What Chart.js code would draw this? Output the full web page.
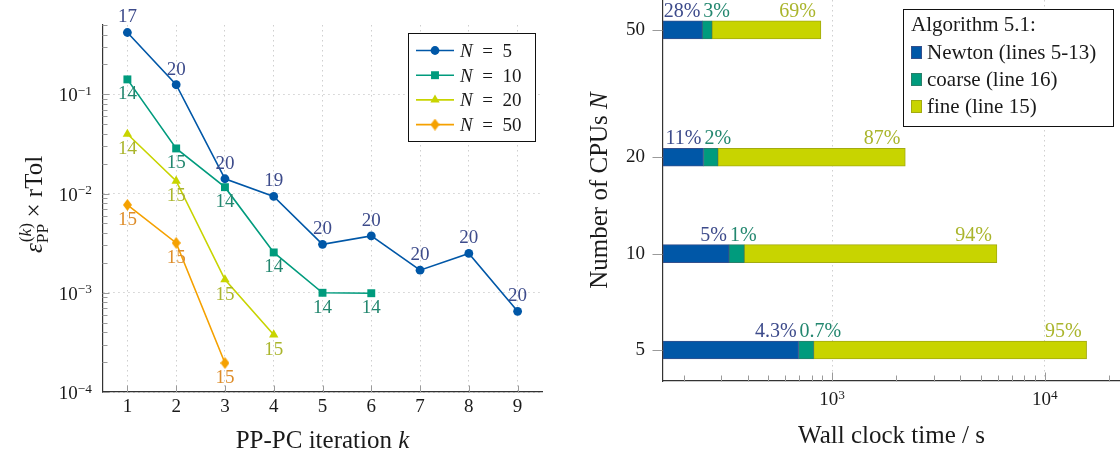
<!DOCTYPE html>
<html><head><meta charset="utf-8">
<script src="https://cdn.jsdelivr.net/npm/chart.js@4.4.1/dist/chart.umd.min.js"></script>
<style>
html,body{margin:0;padding:0;background:#fff;}
#wrap{position:relative;width:1120px;height:456px;overflow:hidden;}
.pane{position:absolute;top:0;width:560px;height:456px;}
</style></head><body>
<div id="wrap">
  <div class="pane" style="left:0"><canvas id="c1" width="560" height="456"></canvas></div>
  <div class="pane" style="left:560px"><canvas id="c2" width="560" height="456"></canvas></div>
</div>
<script>
// ---------------- data: left chart ----------------
const iterations = [1, 2, 3, 4, 5, 6, 7, 8, 9];
const seriesN = [5, 10, 20, 50];
const errN5  = [0.42, 0.125, 0.0141, 0.00935, 0.00308, 0.00374, 0.00169, 0.00249, 0.00065];
const errN10 = [0.1415, 0.0285, 0.0116, 0.00255, 0.00100, 0.00099];
const errN20 = [0.0398, 0.0134, 0.00136, 0.000378];
const errN50 = [0.00769, 0.00318, 0.000196];
const itN5  = [17, 20, 20, 19, 20, 20, 20, 20, 20];
const itN10 = [14, 15, 14, 14, 14, 14];
const itN20 = [14, 15, 15, 15];
const itN50 = [15, 15, 15];
const errTickValues = [1e-4, 1e-3, 1e-2, 1e-1];
const errTickBase = ['10', '10', '10', '10'];
const errTickExp = ['−4', '−3', '−2', '−1'];

// ---------------- data: right chart ----------------
const cpuCounts = [50, 20, 10, 5];
const newtonTime = [245, 248, 327, 695];
const coarseTime = [27, 42, 59, 123];
const fineTime = [613, 1918, 5571, 14922];
const newtonPct = ['28%', '11%', '5%', '4.3%'];
const coarsePct = ['3%', '2%', '1%', '0.7%'];
const finePct = ['69%', '87%', '94%', '95%'];
const phaseNames = ['Newton (lines 5-13)', 'coarse (line 16)', 'fine (line 15)'];
const timeTickValues = [1e3, 1e4];
const timeTickBase = ['10', '10'];
const timeTickExp = ['3', '4'];
const cpuTickValues = [5, 10, 20, 50];
const cpuTickLabels = ['5', '10', '20', '50'];

// ---------------- styles ----------------
const FONT = '"Liberation Serif", "Times New Roman", serif';
const BLUE = '#0057a7', GREEN = '#009b7d', LIME = '#c8d400', ORANGE = '#f5a100';
const BLUE_T = '#3d4b8b', GREEN_T = '#23876f', LIME_T = '#aab52c', ORANGE_T = '#de8d2a';
const GRID = '#cfcfcf', AXIS = '#333', TICK = '#9a9a9a', TXT = '#1a1a1a';
Chart.defaults.font.family = FONT;
Chart.defaults.color = TXT;

function logRange(min, max) {
  const out = [];
  for (let e = Math.floor(Math.log10(min)); e <= Math.ceil(Math.log10(max)); e++) {
    for (let m = 1; m <= 9; m++) {
      const v = Number((m * Math.pow(10, e)).toPrecision(8));
      if (v >= min * 0.999999 && v <= max * 1.000001) out.push(v);
    }
  }
  return out;
}
function isPow10(v) { const l = Math.log10(v); return Math.abs(l - Math.round(l)) < 1e-6; }
function indexFor(v, values) {
  for (let i = 0; i < values.length; i++) if (Math.abs(Math.log10(v) - Math.log10(values[i])) < 1e-6) return i;
  return -1;
}
function fontStr(size, it) { return (it ? 'italic ' : '') + size + 'px ' + FONT; }
function measureRuns(ctx, runs, size) {
  let w = 0;
  for (const r of runs) {
    if (r.stack) r._w = Math.max(measureRuns(ctx, r.stack.sup, size * 0.7), measureRuns(ctx, r.stack.sub, size * 0.7));
    else if (r.sup) r._w = measureRuns(ctx, r.sup, size * 0.7);
    else { ctx.font = fontStr(size, r.it); r._w = ctx.measureText(r.t).width; }
    w += r._w;
  }
  return w;
}
function paintRuns(ctx, runs, x, y, size) {
  for (const r of runs) {
    if (r.stack) {
      paintRuns(ctx, r.stack.sup, x + 1, y - size * 0.45, size * 0.7);
      paintRuns(ctx, r.stack.sub, x, y + size * 0.25, size * 0.7);
    } else if (r.sup) {
      paintRuns(ctx, r.sup, x, y - size * 0.34, size * 0.7);
    } else { ctx.font = fontStr(size, r.it); ctx.fillText(r.t, x, y); }
    x += r._w;
  }
}
// baseline-positioned rich text
function drawRich(ctx, runs, cx, baseY, size, rotate, color, align) {
  ctx.save();
  ctx.translate(cx, baseY);
  if (rotate) ctx.rotate(-Math.PI / 2);
  ctx.fillStyle = color; ctx.textAlign = 'left'; ctx.textBaseline = 'alphabetic';
  const w = measureRuns(ctx, runs, size);
  const x0 = align === 'left' ? 0 : align === 'right' ? -w : -w / 2;
  paintRuns(ctx, runs, x0, 0, size);
  ctx.restore();
}
function tickMarkPlugin(specs) {
  return {
    id: 'tickMarks',
    beforeDatasetsDraw(chart) {
      const ctx = chart.ctx;
      specs.forEach(sp => {
        const s = chart.scales[sp.id];
        ctx.save(); ctx.strokeStyle = sp.color; ctx.lineWidth = 1;
        s.ticks.forEach(t => {
          const len = sp.isMajor(t.value) ? sp.major : sp.minor;
          const p = Math.round(s.getPixelForValue(t.value)) + 0.5;
          ctx.beginPath();
          if (s.isHorizontal()) { const y0 = Math.round(s.top) + 0.5; ctx.moveTo(p, y0); ctx.lineTo(p, y0 + (sp.inside ? -len : len)); }
          else { const x0 = Math.round(s.right) - 0.5; ctx.moveTo(x0, p); ctx.lineTo(x0 + (sp.inside ? len : -len), p); }
          ctx.stroke();
        });
        ctx.restore();
      });
    }
  };
}
// power-of-ten tick labels (10 with a raised exponent) placed through the scale
function powLabelPlugin(spec) {
  return {
    id: 'powLabels',
    afterDraw(chart) {
      const ctx = chart.ctx, s = chart.scales[spec.id];
      s.ticks.forEach(t => {
        const k = indexFor(t.value, spec.values);
        if (k < 0) return;
        const p = s.getPixelForValue(t.value);
        const runs = [{ t: spec.base[k] }, { sup: [{ t: spec.exp[k] }] }];
        if (s.isHorizontal()) drawRich(ctx, runs, p, s.top + spec.offset, 19, false, TXT, 'center');
        else drawRich(ctx, runs, s.right - spec.offset, p + 7, 19, false, TXT, 'right');
      });
    }
  };
}
function markerDraw(ctx, ds, x, y) {
  ctx.save();
  ctx.fillStyle = ds.pointBackgroundColor; ctx.strokeStyle = ds.pointBackgroundColor;
  if (Chart.helpers && Chart.helpers.drawPoint) {
    Chart.helpers.drawPoint(ctx, { pointStyle: ds.pointStyle, radius: ds.pointRadius, borderWidth: 0, rotation: 0 }, x, y);
  } else {
    ctx.beginPath(); ctx.arc(x, y, ds.pointRadius, 0, Math.PI * 2); ctx.fill();
  }
  ctx.restore();
}

// diamond marker image (taller than wide)
const diamond = document.createElement('canvas');
diamond.width = 9; diamond.height = 12;
(function () {
  const g = diamond.getContext('2d');
  g.fillStyle = ORANGE; g.beginPath();
  g.moveTo(4.5, 0); g.lineTo(9, 6); g.lineTo(4.5, 12); g.lineTo(0, 6); g.closePath(); g.fill();
})();

// ---------------- left chart ----------------
const errSeries = [errN5, errN10, errN20, errN50];
const itSeries = [itN5, itN10, itN20, itN50];
const lineColors = [BLUE, GREEN, LIME, ORANGE];
const labelColors = [BLUE_T, GREEN_T, LIME_T, ORANGE_T];
const styles = ['circle', 'rect', 'triangle', diamond];
const radii = [4.4, 5.6, 5.4, 5];

const leftDatasets = errSeries.map((arr, i) => ({
  label: 'N = ' + seriesN[i],
  data: arr.map((v, j) => ({ x: iterations[j], y: v })),
  borderColor: lineColors[i],
  backgroundColor: lineColors[i],
  pointBackgroundColor: lineColors[i],
  pointBorderColor: lineColors[i],
  pointBorderWidth: 0,
  pointStyle: styles[i],
  pointRadius: radii[i],
  borderWidth: 1.6,
  tension: 0,
  fill: false
}));

const leftLabels = {
  id: 'leftLabels',
  afterDatasetsDraw(chart) {
    const ctx = chart.ctx;
    ctx.save();
    ctx.font = fontStr(19, false); ctx.textAlign = 'center'; ctx.textBaseline = 'middle';
    chart.data.datasets.forEach((ds, i) => {
      const meta = chart.getDatasetMeta(i);
      ctx.fillStyle = labelColors[i];
      meta.data.forEach((pt, j) => {
        const dy = i === 0 ? -15 : 15;
        ctx.fillText(String(itSeries[i][j]), pt.x, pt.y + dy);
      });
    });
    ctx.restore();
  }
};
const leftDecor = {
  id: 'leftDecor',
  afterDraw(chart) {
    const ctx = chart.ctx, a = chart.chartArea;
    drawRich(ctx, [{ t: 'PP-PC iteration ' }, { t: 'k', it: true }], (a.left + a.right) / 2, 448, 25, false, TXT);
    drawRich(ctx, [{ t: 'ε', it: true },
      { stack: { sup: [{ t: '(' }, { t: 'k', it: true }, { t: ')' }], sub: [{ t: 'PP' }] } },
      { t: ' × rTol' }], 42, (a.top + a.bottom) / 2 - 4, 25, true, TXT);
    // legend
    const bw = 127, bh = 108;
    const bx = Math.round(a.right - 7 - bw), by = Math.round(a.top + 8);
    ctx.save();
    ctx.fillStyle = '#fff'; ctx.fillRect(bx, by, bw, bh);
    ctx.strokeStyle = '#111'; ctx.lineWidth = 1; ctx.strokeRect(bx + 0.5, by + 0.5, bw, bh);
    chart.data.datasets.forEach((ds, i) => {
      const y = by + 17.5 + i * 24.7;
      ctx.strokeStyle = ds.borderColor; ctx.lineWidth = ds.borderWidth;
      ctx.beginPath(); ctx.moveTo(bx + 8, y); ctx.lineTo(bx + 46, y); ctx.stroke();
      markerDraw(ctx, ds, bx + 27, y);
      drawRich(ctx, [{ t: 'N', it: true }, { t: '\u2002=\u2002' + seriesN[i] }], bx + 52, y + 6.5, 19, false, TXT, 'left');
    });
    ctx.restore();
  }
};

new Chart(document.getElementById('c1'), {
  type: 'line',
  data: { datasets: leftDatasets },
  options: {
    responsive: false, devicePixelRatio: 1, animation: false,
    layout: { padding: { top: 25, right: 18, left: 0, bottom: 0 }, autoPadding: false },
    plugins: { legend: { display: false }, tooltip: { enabled: false } },
    scales: {
      x: {
        type: 'linear', min: 0.5, max: 9.5,
        afterBuildTicks: s => { s.ticks = iterations.map(v => ({ value: v })); },
        afterFit: s => { s.height = 64; s.paddingLeft = 0; s.paddingRight = 0; },
        ticks: { font: { size: 19 }, color: TXT, padding: 4, autoSkip: false, maxRotation: 0,
                 callback: v => String(v) },
        grid: { color: GRID, lineWidth: 1, drawTicks: false },
        border: { display: true, color: AXIS, width: 1.2, dash: [1.5, 3.5] }
      },
      y: {
        type: 'logarithmic', min: 1e-4, max: 0.5,
        afterBuildTicks: s => { s.ticks = logRange(1e-4, 0.5).map(v => ({ value: v })); },
        afterFit: s => { s.width = 103; s.paddingTop = 0; s.paddingBottom = 0; },
        ticks: { display: false, autoSkip: false },
        grid: { color: c => (c.tick && isPow10(c.tick.value)) ? GRID : 'rgba(0,0,0,0)', lineWidth: 1, drawTicks: false },
        border: { display: true, color: AXIS, width: 1.2, dash: [1.5, 3.5] }
      }
    }
  },
  plugins: [
    tickMarkPlugin([
      { id: 'x', inside: true, major: 7, minor: 7, isMajor: () => true, color: TICK },
      { id: 'y', inside: true, major: 7, minor: 5, isMajor: isPow10, color: TICK }
    ]),
    powLabelPlugin({ id: 'y', values: errTickValues, base: errTickBase, exp: errTickExp, offset: 11 }),
    leftLabels, leftDecor
  ]
});

// ---------------- right chart ----------------
const barFill = [BLUE, GREEN, LIME];
const barEdge = ['#34508c', '#2a7f6a', '#a3ab10'];
const pctText = [newtonPct, coarsePct, finePct];
const pctColor = [BLUE_T, GREEN_T, LIME_T];
const phaseTimes = [newtonTime, coarseTime, fineTime];

const rightDatasets = phaseTimes.map((arr, i) => ({
  label: phaseNames[i],
  data: arr.map((v, j) => ({ x: v, y: cpuCounts[j] })),
  backgroundColor: barFill[i],
  borderColor: barEdge[i],
  borderWidth: 1,
  borderSkipped: false,
  barThickness: 18
}));

const rightLabels = {
  id: 'rightLabels',
  afterDatasetsDraw(chart) {
    const ctx = chart.ctx;
    ctx.save();
    ctx.font = fontStr(20, false); ctx.textBaseline = 'alphabetic';
    chart.data.datasets.forEach((ds, i) => {
      const meta = chart.getDatasetMeta(i);
      ctx.fillStyle = pctColor[i];
      meta.data.forEach((el, j) => {
        const top = el.y - el.height / 2 - 4;
        if (i === 0) { ctx.textAlign = 'right'; ctx.fillText(pctText[i][j], el.x - 2, top); }
        else if (i === 1) { ctx.textAlign = 'left'; ctx.fillText(pctText[i][j], el.base + 1, top); }
        else { ctx.textAlign = 'right'; ctx.fillText(pctText[i][j], el.x - 5, top); }
      });
    });
    ctx.restore();
  }
};
const rightDecor = {
  id: 'rightDecor',
  afterDraw(chart) {
    const ctx = chart.ctx, a = chart.chartArea;
    drawRich(ctx, [{ t: 'Wall clock time / s' }], (a.left + a.right) / 2, 443, 25, false, TXT);
    drawRich(ctx, [{ t: 'Number of CPUs ' }, { t: 'N', it: true }], 47, (a.top + a.bottom) / 2, 25, true, TXT);
    // legend
    const bw = 210, bh = 117;
    const bx = Math.round(a.right - 7 - bw), by = 9;
    ctx.save();
    ctx.fillStyle = '#fff'; ctx.fillRect(bx, by, bw, bh);
    ctx.strokeStyle = '#111'; ctx.lineWidth = 1; ctx.strokeRect(bx + 0.5, by + 0.5, bw, bh);
    drawRich(ctx, [{ t: 'Algorithm 5.1:' }], bx + 8, by + 22, 21, false, TXT, 'left');
    chart.data.datasets.forEach((ds, i) => {
      const y = by + 44 + i * 27;
      ctx.fillStyle = ds.backgroundColor; ctx.fillRect(bx + 8, y - 7, 11, 13);
      ctx.strokeStyle = ds.borderColor; ctx.lineWidth = 1; ctx.strokeRect(bx + 8.5, y - 6.5, 10, 12);
      drawRich(ctx, [{ t: ds.label }], bx + 24, y + 6, 21, false, TXT, 'left');
    });
    ctx.restore();
  }
};

new Chart(document.getElementById('c2'), {
  type: 'bar',
  data: { datasets: rightDatasets },
  options: {
    indexAxis: 'y',
    responsive: false, devicePixelRatio: 1, animation: false,
    layout: { padding: { top: 0, right: 0, left: 0, bottom: 0 }, autoPadding: false },
    plugins: { legend: { display: false }, tooltip: { enabled: false } },
    scales: {
      x: {
        type: 'logarithmic', stacked: true, min: 160, max: 22600,
        afterBuildTicks: s => { s.ticks = logRange(160, 22600).map(v => ({ value: v })); },
        afterFit: s => { s.height = 75; s.paddingLeft = 0; s.paddingRight = 0; },
        ticks: { display: false, autoSkip: false },
        grid: { color: c => (c.tick && isPow10(c.tick.value)) ? GRID : 'rgba(0,0,0,0)', lineWidth: 1, drawTicks: false },
        border: { display: true, color: AXIS, width: 1.2, dash: [1.5, 3.5] }
      },
      y: {
        type: 'logarithmic', stacked: true, min: 4, max: 62,
        afterBuildTicks: s => { s.ticks = cpuTickValues.map(v => ({ value: v })); },
        afterFit: s => { s.width = 103; s.paddingTop = 0; s.paddingBottom = 0; },
        ticks: { font: { size: 19 }, color: TXT, padding: 18, autoSkip: false,
                 callback: v => { const k = indexFor(v, cpuTickValues); return k < 0 ? '' : cpuTickLabels[k]; } },
        grid: { display: false, drawTicks: false },
        border: { display: true, color: AXIS, width: 1.2 }
      }
    }
  },
  plugins: [
    tickMarkPlugin([
      { id: 'x', inside: true, major: 9, minor: 6, isMajor: isPow10, color: TICK },
      { id: 'y', inside: false, major: 10, minor: 10, isMajor: () => true, color: TICK }
    ]),
    powLabelPlugin({ id: 'x', values: timeTickValues, base: timeTickBase, exp: timeTickExp, offset: 24 }),
    rightLabels, rightDecor
  ]
});
</script>
</body></html>
